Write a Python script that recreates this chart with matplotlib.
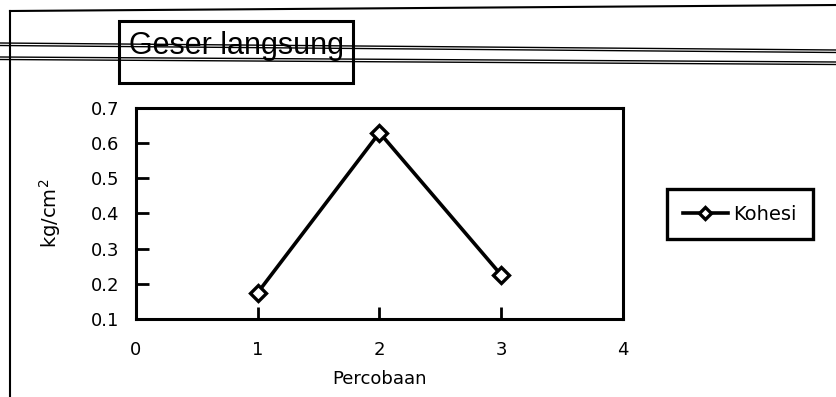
import matplotlib.pyplot as plt
from matplotlib.lines import Line2D
from matplotlib.patches import Rectangle

plt.rcParams['font.family'] = ['DejaVu Sans']

# data
percobaan = [1, 2, 3]
kohesi = [0.175, 0.63, 0.225]
x_ticks = [0, 1, 2, 3, 4]
y_ticks = [0.1, 0.2, 0.3, 0.4, 0.5, 0.6, 0.7]

W, H = 837, 397

fig = plt.figure(figsize=(8.37, 3.97), dpi=100)
ax = fig.add_axes([136 / W, 1 - 319 / H, 487 / W, 211 / H])

ax.plot(percobaan, kohesi, color='black', lw=2.6, marker='D', ms=8,
        mfc='white', mec='black', mew=2.4, label='Kohesi')

ax.set_xlim(0, 4)
ax.set_ylim(0.1, 0.7)
ax.set_xticks(x_ticks)
ax.set_yticks(y_ticks)
ax.set_yticklabels(['%.1f' % v for v in y_ticks])
ax.tick_params(direction='in', length=9, width=2, labelsize=13)
ax.tick_params(axis='x', pad=16)
ax.tick_params(axis='y', pad=12)
for s in ax.spines.values():
    s.set_linewidth(2.2)

ax.set_xlabel('Percobaan', fontsize=13, labelpad=8)
ax.set_ylabel('kg/cm$^2$', fontsize=14, labelpad=20)

# title box
fig.patches.append(Rectangle((119 / W, 1 - 83 / H), 234 / W, 62 / H,
                             transform=fig.transFigure, fill=False,
                             lw=2.2, ec='black'))
fig.text(237 / W, 1 - 46 / H, 'Geser langsung', fontsize=22,
         family='Liberation Sans', ha='center', va='center')

# scan artefact lines of the surrounding table (doubled, like the scan)
fig.add_artist(Line2D([10 / W, 1], [1 - 11 / H, 1 - 5 / H], color='black', lw=1.5))
for off in (0, 2.5):
    fig.add_artist(Line2D([0, 1], [1 - (43 + off) / H, 1 - (50 + off) / H],
                          color='black', lw=1.0))
    fig.add_artist(Line2D([0, 1], [1 - (57 + off) / H, 1 - (62 + off) / H],
                          color='black', lw=1.0))
fig.add_artist(Line2D([10 / W, 10 / W], [0, 1 - 11 / H], color='black', lw=1.5))

leg = fig.legend(loc='center', bbox_to_anchor=(740 / W, 1 - 214 / H),
                 fontsize=14, frameon=True, fancybox=False, framealpha=1,
                 handlelength=2.3, handletextpad=0.3, borderpad=0.8,
                 markerscale=0.8)
leg.get_frame().set_edgecolor('black')
leg.get_frame().set_linewidth(2.4)

fig.savefig('out.png', dpi=100)
